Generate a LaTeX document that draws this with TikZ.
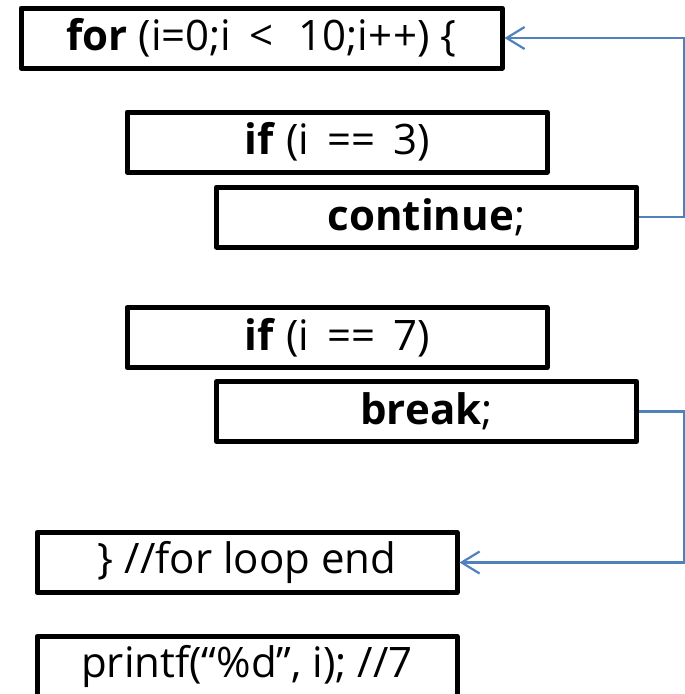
\documentclass[tikz,border=0pt]{standalone}
\usepackage{fontspec}
\setmainfont{Open Sans}
\usetikzlibrary{arrows.meta}
\definecolor{flowblue}{HTML}{4F81BD}
\tikzset{
  codebox/.style={draw=black, line width=5pt, line join=round, fill=white,
    inner sep=0pt, font=\fontsize{42}{48}\selectfont},
  wide/.style={minimum width=420pt, minimum height=60pt},
  widest/.style={minimum width=481pt, minimum height=60pt},
  jump/.style={draw=flowblue, line width=2.2pt,
    -{Straight Barb[length=18pt, width=22pt, line width=2.2pt]}}
}
\begin{document}
\begin{tikzpicture}[x=1pt, y=-1pt]
  \clip (0,0) rectangle (685,694);
  \useasboundingbox (0,0) rectangle (685,694);

  \node[codebox, widest] (forhead) at (261.5,38)  {\textbf{for} (i=0;i \,<\,\, 10;i+\kern1pt+) \{};
  \node[codebox, wide]   (if3)     at (337,142)   {\textbf{if} (i \,==\, 3)};
  \node[codebox, wide]   (cont)    at (426.5,217) {\textbf{continue};};
  \node[codebox, wide]   (if7)     at (337,337.5) {\textbf{if} (i \,==\, 7)};
  \node[codebox, wide]   (brk)     at (426.5,411.5) {\textbf{break};};
  \node[codebox, wide]   (forend)  at (247,562.5) {\} //for loop end};
  \node[codebox, wide]   (prt)     at (247,666.5) {printf(“\%d”, i); //7};

  % jumps taken by continue and break
  \coordinate (rc) at (684,217);
  \coordinate (rb) at (684,411.5);
  \draw[jump] (cont.east) -- (rc) |- (forhead.east);
  \draw[jump] (brk.east) -- (rb) |- (forend.east);
\end{tikzpicture}
\end{document}
